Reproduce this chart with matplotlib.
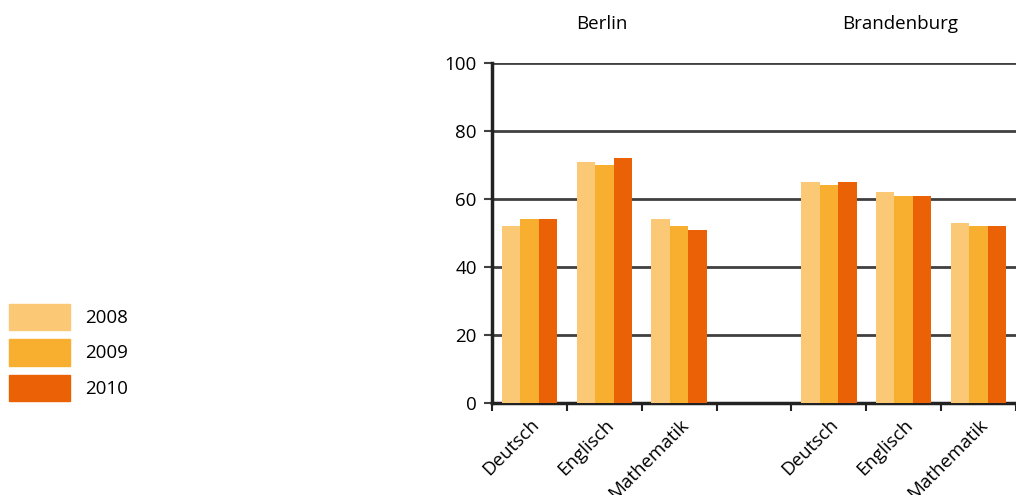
import numpy as np
import matplotlib.pyplot as plt
from matplotlib.patches import Patch

plt.rcParams['font.family'] = ['Open Sans', 'DejaVu Sans']

subjects = ['Deutsch', 'Englisch', 'Mathematik']
regions = ['Berlin', 'Brandenburg']
years = ['2008', '2009', '2010']
colors = ['#FBC975', '#F8AE2F', '#EB6105']

berlin = [[52, 71, 54],   # 2008
          [54, 70, 52],   # 2009
          [54, 72, 51]]   # 2010
brandenburg = [[65, 62, 53],
               [64, 61, 52],
               [65, 61, 52]]

fig = plt.figure(figsize=(10.16, 4.95), dpi=100)
ax = fig.add_axes([0.4843, 0.1859, 0.5157, 0.6868])

# slots: 0-2 Berlin, 3 empty, 4-6 Brandenburg
slots = np.array([0, 1, 2, 4, 5, 6]) + 0.5
w = 0.247
for i in range(3):
    vals = berlin[i] + brandenburg[i]
    ax.bar(slots + (i - 1) * w, vals, width=w, color=colors[i], zorder=3)

ax.set_ylim(0, 100)
ax.set_xlim(0, 6.88)
ax.set_yticks(range(0, 101, 20))
ax.yaxis.grid(True, color='#404040', linewidth=2)
ax.set_axisbelow(True)

ax.set_xticks(slots)
ax.set_xticklabels(subjects * 2, rotation=45, ha='right', rotation_mode='anchor', fontsize=13.5)
ax.set_xticks(np.arange(0, 8), minor=True)
ax.tick_params(axis='x', which='major', length=0, pad=9)
ax.tick_params(axis='x', which='minor', length=6, width=1.5, color='#222222', direction='out')
ax.tick_params(axis='y', length=6, width=1.5, color='#404040', labelsize=13.5, pad=5)

for s in ['top', 'right']:
    ax.spines[s].set_visible(False)
ax.spines['left'].set_linewidth(2.5)
ax.spines['left'].set_color('#222222')
ax.spines['bottom'].set_linewidth(2.5)
ax.spines['bottom'].set_color('#222222')

ax.text(1.47, 111.5, regions[0], ha='center', va='center', fontsize=13.5, clip_on=False)
ax.text(5.45, 111.5, regions[1], ha='center', va='center', fontsize=13.5, clip_on=False)

handles = [Patch(color=c, label=y) for c, y in zip(colors, years)]
fig.legend(handles=handles, loc='center left', bbox_to_anchor=(0.0089, 0.288),
           frameon=False, fontsize=13.5, handlelength=3.25, handleheight=1.78,
           labelspacing=0.5, handletextpad=0.8, borderaxespad=0, borderpad=0)

fig.savefig('out.png', dpi=100)
